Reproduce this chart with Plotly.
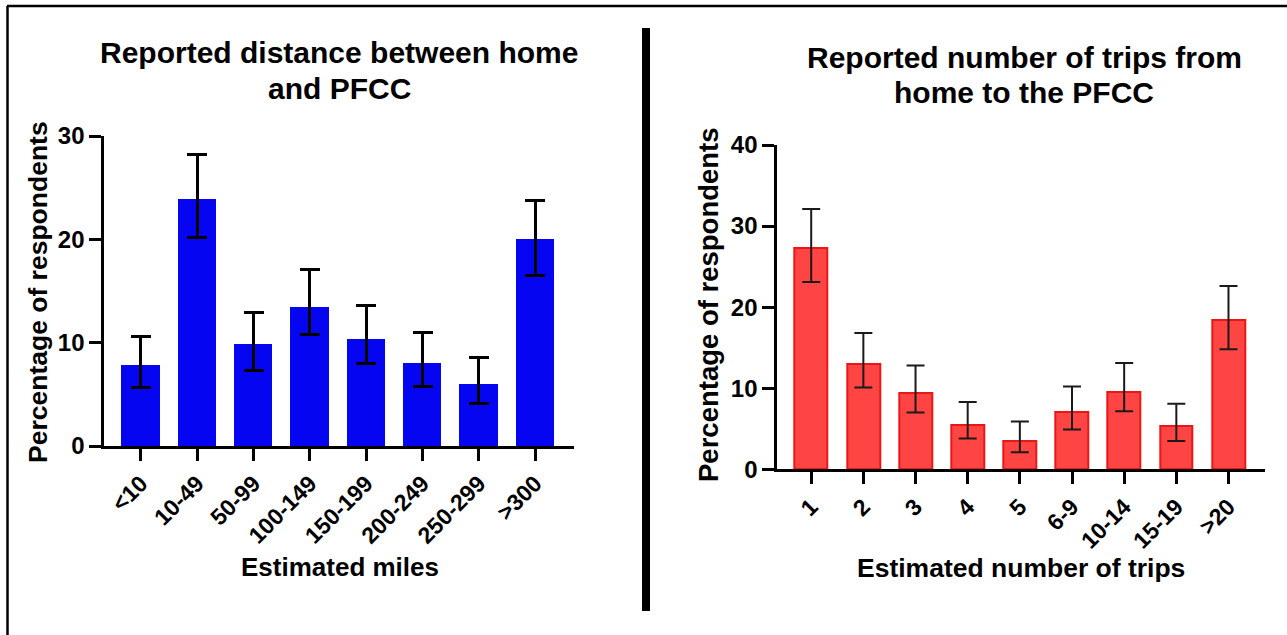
import plotly.graph_objects as go

# ---------------- data ----------------
dist_labels = ['<10', '10-49', '50-99', '100-149', '150-199', '200-249', '250-299', '>300']
dist_pct = [7.8, 23.9, 9.9, 13.5, 10.4, 8.0, 6.0, 20.0]
dist_upper = [10.6, 28.2, 12.9, 17.1, 13.6, 11.0, 8.6, 23.8]
dist_lower = [5.7, 20.2, 7.3, 10.8, 8.0, 5.8, 4.1, 16.5]

trips_labels = ['1', '2', '3', '4', '5', '6-9', '10-14', '15-19', '>20']
trips_pct = [27.25, 13.0, 9.4, 5.5, 3.5, 7.1, 9.5, 5.4, 18.4]
trips_upper = [32.1, 16.8, 12.8, 8.3, 5.9, 10.2, 13.1, 8.1, 22.6]
trips_lower = [23.1, 10.1, 7.0, 3.8, 2.1, 4.9, 7.15, 3.5, 14.8]

left_yticks = [0, 10, 20, 30]
right_yticks = [0, 10, 20, 30, 40]

# ---------------- layout helpers ----------------
W, H = 1287, 635
FONT = "Liberation Sans, Arial, sans-serif"


def px(x):
    return x / W


def py(y):
    return 1 - y / H


fig = go.Figure()

fig.add_trace(go.Bar(
    x=list(range(len(dist_labels))), y=dist_pct, width=0.68,
    marker=dict(color='#0505F2', line=dict(width=0)),
    error_y=dict(type='data', symmetric=False,
                 array=[u - v for u, v in zip(dist_upper, dist_pct)],
                 arrayminus=[v - l for v, l in zip(dist_pct, dist_lower)],
                 color='black', thickness=3, width=10),
    xaxis='x', yaxis='y', showlegend=False))

fig.add_trace(go.Bar(
    x=list(range(len(trips_labels))), y=trips_pct, width=0.63,
    marker=dict(color='rgb(255,68,68)', line=dict(width=2, color='rgb(235,22,22)')),
    error_y=dict(type='data', symmetric=False,
                 array=[u - v for u, v in zip(trips_upper, trips_pct)],
                 arrayminus=[v - l for v, l in zip(trips_pct, trips_lower)],
                 color='#1a1a1a', thickness=2, width=9),
    xaxis='x2', yaxis='y2', showlegend=False))

xtickfont = dict(family=FONT, size=23, color='black', weight='bold')
ytickfont = dict(family=FONT, size=24, color='black', weight='bold')
axis_common = dict(showline=True, linewidth=3, linecolor='black', ticks='outside',
                   tickwidth=3, tickcolor='black', showgrid=False, zeroline=False,
                   fixedrange=True, automargin=False)

fig.update_layout(
    template='none',
    width=W, height=H,
    margin=dict(l=0, r=0, t=0, b=0, pad=0, autoexpand=False),
    paper_bgcolor='white', plot_bgcolor='white',
    bargap=0,
    xaxis=dict(domain=[px(104.3), px(574)], range=[-0.65, 7.69], anchor='y',
               tickmode='array', tickvals=list(range(len(dist_labels))), ticktext=dist_labels,
               tickangle=-45, ticklen=12, tickfont=xtickfont, **axis_common),
    yaxis=dict(domain=[py(446), py(136)], range=[0, 30], anchor='x',
               tickmode='array', tickvals=left_yticks, ticklen=12, tickfont=ytickfont, **axis_common),
    xaxis2=dict(domain=[px(777.3), px(1265)], range=[-0.65, 8.70], anchor='y2',
                tickmode='array', tickvals=list(range(len(trips_labels))), ticktext=trips_labels,
                tickangle=-45, ticklen=12, tickfont=xtickfont, **axis_common),
    yaxis2=dict(domain=[py(469.3), py(145)], range=[0, 40], anchor='x2',
                tickmode='array', tickvals=right_yticks, ticklen=12, tickfont=ytickfont, **axis_common),
)


def ann(text, x, y, size, angle=0):
    fig.add_annotation(text=text, x=px(x), y=py(y), xref='paper', yref='paper',
                       xanchor='center', yanchor='middle', showarrow=False,
                       textangle=angle,
                       font=dict(family=FONT, size=size, color='black', weight='bold'))


# titles
ann('Reported distance between home', 339, 53, 30)
ann('and PFCC', 339, 88, 30)
ann('Reported number of trips from', 1024, 57, 30)
ann('home to the PFCC', 1024, 93, 30)
# axis titles
ann('Percentage of respondents', 38, 292, 26.5, -90)
ann('Percentage of respondents', 708, 305, 27.5, -90)
ann('Estimated miles', 339.5, 567, 26)
ann('Estimated number of trips', 1021, 568, 26.5)

# frame lines and divider
fig.add_shape(type='line', xref='paper', yref='paper', x0=px(7), x1=1, y0=py(6), y1=py(6),
              line=dict(color='black', width=2.5))
fig.add_shape(type='line', xref='paper', yref='paper', x0=px(7.5), x1=px(7.5), y0=py(6), y1=0,
              line=dict(color='black', width=2.5))
fig.add_shape(type='rect', xref='paper', yref='paper', x0=px(642), x1=px(650), y0=py(611), y1=py(28),
              line=dict(width=0), fillcolor='black')

fig.write_html("out.html", config={'displayModeBar': False},
               post_script="document.body.style.margin='0px';document.body.style.overflow='hidden';")
